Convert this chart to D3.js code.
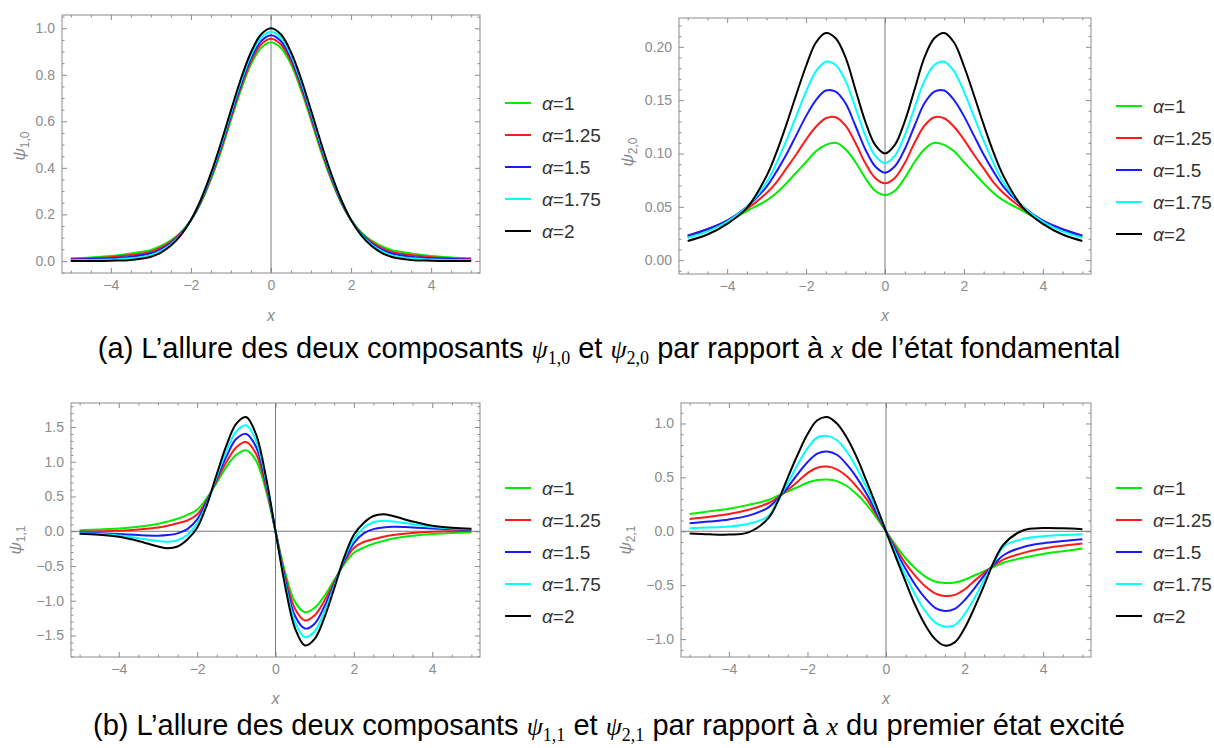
<!DOCTYPE html>
<meta charset="utf-8">
<head>
<style>
  body { margin: 0; background: #fff; }
  .tick text { font-family: "Liberation Sans", Arial, sans-serif; font-size: 14px; fill: #8c8c8c; }
  .tick line { stroke: #8c8c8c; }
  .frame { fill: none; stroke: #8c8c8c; stroke-width: 1; }
  .zero { stroke: #7a7a7a; stroke-width: 1; }
  .curve { fill: none; stroke-width: 2; }
  .ylab, .xlab { font-family: "Liberation Sans", Arial, sans-serif; font-style: italic; fill: #8c8c8c; }
  .legend text { font-family: "Liberation Sans", Arial, sans-serif; font-size: 19px; fill: #333; }
  .caption { font-family: "Liberation Sans", Arial, sans-serif; font-size: 29px; fill: #000; }
  .math { font-family: "Liberation Serif", "DejaVu Serif", serif; font-style: italic; }
</style>
<title>psi components</title>
</head>
<body>
<svg id="fig" width="1214" height="748"></svg>
<script src="https://cdn.jsdelivr.net/npm/d3@7"></script>
<script>
// sample positions (x)
const xs = [-5,-4.5,-4,-3.5,-3,-2.75,-2.5,-2.25,-2,-1.75,-1.5,-1.25,-1,-0.75,-0.5,-0.25,0,
            0.25,0.5,0.75,1,1.25,1.5,1.75,2,2.25,2.5,2.75,3,3.5,4,4.5,5];

const alphas = ["1", "1.25", "1.5", "1.75", "2"];
const colors = ["#00ee00", "#ff1a1a", "#1a1aff", "#00ffff", "#000000"];

// psi_{1,0}, one row per alpha
const psi10 = [
  [.011,.015,.021,.032,.047,.064,.088,.123,.175,.250,.350,.470,.605,.735,.845,.915,.940,.915,.845,.735,.605,.470,.350,.250,.175,.123,.088,.064,.047,.032,.021,.015,.011],
  [.008,.011,.016,.025,.040,.057,.083,.120,.175,.254,.357,.479,.616,.747,.858,.930,.955,.930,.858,.747,.616,.479,.357,.254,.175,.120,.083,.057,.040,.025,.016,.011,.008],
  [.006,.008,.011,.018,.033,.050,.077,.117,.176,.257,.363,.489,.626,.759,.871,.944,.970,.944,.871,.759,.626,.489,.363,.257,.176,.117,.077,.050,.033,.018,.011,.008,.006],
  [.003,.004,.006,.011,.025,.043,.072,.114,.176,.261,.370,.498,.637,.771,.884,.959,.985,.959,.884,.771,.637,.498,.370,.261,.176,.114,.072,.043,.025,.011,.006,.004,.003],
  [0,0,.001,.004,.018,.036,.066,.111,.176,.264,.376,.507,.647,.783,.897,.973,1,.973,.897,.783,.647,.507,.376,.264,.176,.111,.066,.036,.018,.004,.001,0,0]
];

// psi_{2,0}
const psi20 = [
  [.022,.028,.036,.046,.056,.063,.072,.082,.092,.102,.108,.110,.104,.092,.077,.065,.061,.065,.077,.092,.104,.110,.108,.102,.092,.082,.072,.063,.056,.046,.036,.028,.022],
  [.023,.029,.037,.048,.063,.073,.086,.099,.113,.125,.133,.134,.126,.110,.091,.077,.072,.077,.091,.110,.126,.134,.133,.125,.113,.099,.086,.073,.063,.048,.037,.029,.023],
  [.023,.029,.037,.050,.069,.083,.099,.117,.135,.150,.159,.158,.147,.126,.104,.088,.082,.088,.104,.126,.147,.158,.159,.150,.135,.117,.099,.083,.069,.050,.037,.029,.023],
  [.021,.027,.036,.050,.073,.091,.112,.135,.158,.177,.186,.183,.168,.143,.117,.098,.091,.098,.117,.143,.168,.183,.186,.177,.158,.135,.112,.091,.073,.050,.036,.027,.021],
  [.018,.024,.034,.049,.079,.101,.127,.155,.182,.204,.213,.208,.190,.160,.130,.108,.100,.108,.130,.160,.190,.208,.213,.204,.182,.155,.127,.101,.079,.049,.034,.024,.018]
];

// psi_{1,1}
const psi11 = [
  [.015,.025,.038,.065,.105,.14,.18,.235,.31,.48,.70,.93,1.10,1.165,1.02,.60,0,-.60,-1.02,-1.165,-1.10,-.93,-.70,-.48,-.31,-.235,-.18,-.14,-.105,-.065,-.038,-.025,-.015],
  [-.005,0,.008,.025,.055,.08,.115,.155,.24,.45,.73,1.0,1.21,1.285,1.12,.66,0,-.66,-1.12,-1.285,-1.21,-1.0,-.73,-.45,-.24,-.155,-.115,-.08,-.055,-.025,-.008,0,.005],
  [-.02,-.03,-.04,-.055,-.063,-.055,-.03,.03,.17,.43,.76,1.08,1.33,1.40,1.22,.71,0,-.71,-1.22,-1.40,-1.33,-1.08,-.76,-.43,-.17,-.03,.03,.055,.063,.055,.04,.03,.02],
  [-.03,-.04,-.06,-.10,-.14,-.15,-.13,-.05,.11,.40,.79,1.16,1.44,1.525,1.31,.76,0,-.76,-1.31,-1.525,-1.44,-1.16,-.79,-.40,-.11,.05,.13,.15,.14,.10,.06,.04,.03],
  [-.035,-.05,-.08,-.14,-.22,-.245,-.22,-.12,.05,.38,.82,1.24,1.55,1.645,1.40,.80,0,-.80,-1.40,-1.645,-1.55,-1.24,-.82,-.38,-.05,.12,.22,.245,.22,.14,.08,.05,.035]
];

// psi_{2,1}
const psi21 = [
  [.16,.185,.21,.245,.29,.33,.37,.41,.45,.475,.48,.465,.42,.345,.25,.13,0,-.13,-.25,-.345,-.42,-.465,-.48,-.475,-.45,-.41,-.37,-.33,-.29,-.245,-.21,-.185,-.16],
  [.114,.135,.16,.20,.26,.315,.385,.46,.54,.59,.60,.575,.51,.415,.30,.155,0,-.155,-.30,-.415,-.51,-.575,-.60,-.59,-.54,-.46,-.385,-.315,-.26,-.20,-.16,-.135,-.114],
  [.074,.09,.11,.145,.22,.305,.41,.53,.64,.72,.74,.71,.62,.50,.35,.18,0,-.18,-.35,-.50,-.62,-.71,-.74,-.72,-.64,-.53,-.41,-.305,-.22,-.145,-.11,-.09,-.074],
  [.028,.035,.045,.07,.14,.29,.45,.62,.77,.87,.885,.845,.74,.59,.41,.21,0,-.21,-.41,-.59,-.74,-.845,-.885,-.87,-.77,-.62,-.45,-.29,-.14,-.07,-.045,-.035,-.028],
  [-.02,-.028,-.03,-.01,.12,.28,.50,.71,.90,1.03,1.06,1.00,.87,.69,.47,.24,0,-.24,-.47,-.69,-.87,-1.00,-1.06,-1.03,-.90,-.71,-.50,-.28,-.12,.01,.03,.028,.02]
];

const xTicks = [-4, -2, 0, 2, 4];
const yTicks10 = [0, 0.2, 0.4, 0.6, 0.8, 1.0];
const yTicks20 = [0, 0.05, 0.10, 0.15, 0.20];
const yTicks11 = [-1.5, -1.0, -0.5, 0, 0.5, 1.0, 1.5];
const yTicks21 = [-1.0, -0.5, 0, 0.5, 1.0];

const svg = d3.select('#fig');

const panels = [
  { data: psi10, sub: "1,0", frame: [62, 15, 480, 273], yDom: [-0.052, 1.057], yTicks: yTicks10, yMinor: 0.05, fmt: d3.format(".1f"),
    zeroH: false, ylab: [19, 146], xlabY: 315, leg: [505, 103] },
  { data: psi20, sub: "2,0", frame: [679, 18, 1091, 274], yDom: [-0.013, 0.227], yTicks: yTicks20, yMinor: 0.01, fmt: d3.format(".2f"),
    zeroH: false, ylab: [627, 152], xlabY: 315, leg: [1116, 106] },
  { data: psi11, sub: "1,1", frame: [71, 403, 480, 657], yDom: [-1.81, 1.846], yTicks: yTicks11, yMinor: 0.1, fmt: d3.format(".1f"),
    zeroH: true, ylab: [15, 540], xlabY: 698, leg: [505, 488] },
  { data: psi21, sub: "2,1", frame: [681, 403, 1091, 657], yDom: [-1.166, 1.19], yTicks: yTicks21, yMinor: 0.1, fmt: d3.format(".1f"),
    zeroH: true, ylab: [625, 540], xlabY: 698, leg: [1116, 488] }
];

const minorRange = (lo, hi, step, majors) => {
  const out = [];
  for (let v = Math.ceil(lo / step) * step; v <= hi + 1e-9; v += step) {
    const r = Math.round(v / step) * step;
    if (!majors.some(m => Math.abs(m - r) < 1e-9)) out.push(r);
  }
  return out;
};

panels.forEach(p => {
  const [l, t, r, b] = p.frame;
  const x = d3.scaleLinear().domain([-5.22, 5.22]).range([l, r]);
  const y = d3.scaleLinear().domain(p.yDom).range([b, t]);
  const g = svg.append('g');

  const xMinor = minorRange(-5.2, 5.2, 0.5, xTicks);
  const yMinor = minorRange(p.yDom[0], p.yDom[1], p.yMinor, p.yTicks);
  const fmt = v => p.fmt(v).replace('-', '\u2212');

  const noDomain = s => s.select('.domain').remove();

  // major ticks with labels
  g.append('g').attr('transform', `translate(0,${b})`)
    .call(d3.axisBottom(x).tickValues(xTicks).tickSize(-5).tickPadding(7).tickFormat(d => String(d).replace('-', '\u2212')))
    .call(noDomain);
  g.append('g').attr('transform', `translate(${l},0)`)
    .call(d3.axisLeft(y).tickValues(p.yTicks).tickSize(-5).tickPadding(7).tickFormat(fmt))
    .call(noDomain);
  // mirrored ticks without labels
  g.append('g').attr('transform', `translate(0,${t})`)
    .call(d3.axisTop(x).tickValues(xTicks).tickSize(-5).tickFormat(''))
    .call(noDomain);
  g.append('g').attr('transform', `translate(${r},0)`)
    .call(d3.axisRight(y).tickValues(p.yTicks).tickSize(-5).tickFormat(''))
    .call(noDomain);
  // minor ticks
  g.append('g').attr('transform', `translate(0,${b})`)
    .call(d3.axisBottom(x).tickValues(xMinor).tickSize(-2.5).tickFormat('')).call(noDomain);
  g.append('g').attr('transform', `translate(0,${t})`)
    .call(d3.axisTop(x).tickValues(xMinor).tickSize(-2.5).tickFormat('')).call(noDomain);
  g.append('g').attr('transform', `translate(${l},0)`)
    .call(d3.axisLeft(y).tickValues(yMinor).tickSize(-2.5).tickFormat('')).call(noDomain);
  g.append('g').attr('transform', `translate(${r},0)`)
    .call(d3.axisRight(y).tickValues(yMinor).tickSize(-2.5).tickFormat('')).call(noDomain);

  // axes through origin
  g.append('line').attr('class', 'zero')
    .attr('x1', x(0)).attr('x2', x(0)).attr('y1', t).attr('y2', b);
  if (p.zeroH) {
    g.append('line').attr('class', 'zero')
      .attr('x1', l).attr('x2', r).attr('y1', y(0)).attr('y2', y(0));
  }

  g.append('rect').attr('class', 'frame')
    .attr('x', l).attr('y', t).attr('width', r - l).attr('height', b - t);

  const line = d3.line()
    .x((d, i) => x(xs[i]))
    .y(d => y(d))
    .curve(d3.curveCatmullRom.alpha(0.5));

  g.selectAll('.curve').data(p.data).enter()
    .append('path')
      .attr('class', 'curve')
      .attr('stroke', (d, i) => colors[i])
      .attr('d', line);

  // axis labels
  const yl = g.append('text').attr('class', 'ylab')
    .attr('transform', `translate(${p.ylab[0]},${p.ylab[1]}) rotate(-90)`)
    .attr('text-anchor', 'middle').attr('dy', '0.35em')
    .style('font-size', '17px');
  yl.append('tspan').text('\u03C8');
  yl.append('tspan').attr('dy', 4).style('font-size', '12px').style('font-style', 'normal').text(p.sub);

  g.append('text').attr('class', 'xlab')
    .attr('x', x(0)).attr('y', p.xlabY).attr('text-anchor', 'middle').attr('dy', '0.35em')
    .style('font-size', '16px').text('x');

  // legend
  const leg = g.append('g').attr('class', 'legend');
  alphas.forEach((a, i) => {
    const ly = p.leg[1] + i * 32;
    leg.append('line').attr('x1', p.leg[0]).attr('x2', p.leg[0] + 26)
      .attr('y1', ly).attr('y2', ly).attr('stroke', colors[i]).attr('stroke-width', 2);
    const tx = leg.append('text').attr('x', p.leg[0] + 37).attr('y', ly).attr('dy', '0.35em');
    tx.append('tspan').style('font-style', 'italic').text('\u03B1');
    tx.append('tspan').text('=' + a);
  });
});

// captions
const caption = (cy, parts) => {
  const tx = svg.append('text').attr('class', 'caption')
    .attr('x', 609).attr('y', cy).attr('text-anchor', 'middle');
  parts.forEach(pt => {
    if (typeof pt === 'string') {
      tx.append('tspan').text(pt);
    } else if (pt.sub) {
      tx.append('tspan').attr('class', 'math').style('font-size', '26px').text(pt.sym);
      tx.append('tspan').attr('dy', 6).style('font-size', '18px').style('font-family', '"Liberation Serif", serif').text(pt.sub);
      tx.append('tspan').attr('dy', -6).text(' ');
    } else {
      tx.append('tspan').attr('class', 'math').style('font-size', '26px').text(pt.sym);
    }
  });
};

caption(358, ["(a) L\u2019allure des deux composants ", { sym: "\u03C8", sub: "1,0" }, "et ",
  { sym: "\u03C8", sub: "2,0" }, "par rapport \u00E0 ", { sym: "x" }, " de l\u2019\u00E9tat fondamental"]);
caption(735, ["(b) L\u2019allure des deux composants ", { sym: "\u03C8", sub: "1,1" }, "et ",
  { sym: "\u03C8", sub: "2,1" }, "par rapport \u00E0 ", { sym: "x" }, " du premier \u00E9tat excit\u00E9"]);
</script>
</body>
